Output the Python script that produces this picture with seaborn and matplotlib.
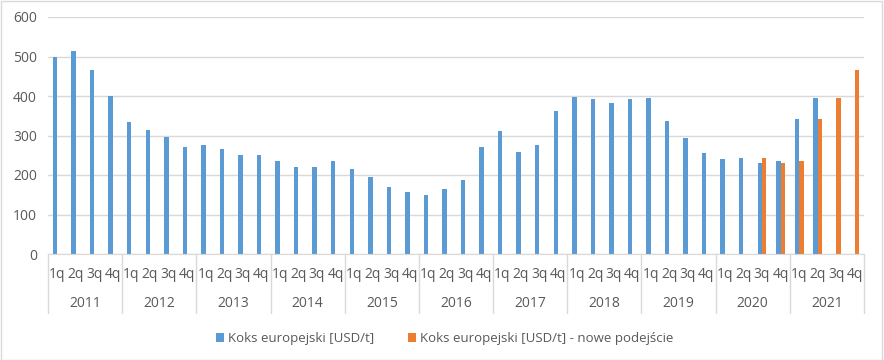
import numpy as np
import pandas as pd
import matplotlib
matplotlib.use("Agg")
import matplotlib.pyplot as plt
import matplotlib.transforms as mtransforms
from matplotlib.patches import Rectangle
import seaborn as sns

# data
years = [str(y) for y in range(2011, 2022)]
quarters = ["1q", "2q", "3q", "4q"]
koks = [500, 515, 465, 400,
        335, 315, 295, 272,
        275, 265, 250, 250,
        235, 220, 220, 235,
        215, 195, 170, 158,
        150, 165, 187, 272,
        312, 258, 275, 362,
        398, 392, 382, 392,
        395, 337, 294, 256,
        241, 243, 230, 235,
        342, 395, np.nan, np.nan]
koks_nowe = [np.nan] * 38 + [243, 230, 235, 342, 395, 466]
series_names = ["Koks europejski [USD/t]", "Koks europejski [USD/t] - nowe podejście"]
colors = ["#5B9BD5", "#ED7D31"]

keys = [f"{y}-{q}" for y in years for q in quarters]
df = pd.concat([
    pd.DataFrame({"okres": keys, "wartosc": koks, "seria": series_names[0]}),
    pd.DataFrame({"okres": keys, "wartosc": koks_nowe, "seria": series_names[1]}),
], ignore_index=True)

sns.set_style("white")
plt.rcParams["font.family"] = ["Open Sans", "DejaVu Sans"]
text_col = "#595959"
grid_col = "#D9D9D9"

fig = plt.figure(figsize=(8.84, 3.6), dpi=100)
ax = fig.add_axes([48 / 884, 1 - 254 / 360, (864 - 48) / 884, 237 / 360])

sns.barplot(data=df, x="okres", y="wartosc", hue="seria", order=keys,
            hue_order=series_names, palette=colors, width=0.48,
            saturation=1, ax=ax, errorbar=None, linewidth=0)

ax.set_ylim(0, 600)
ax.set_xlim(-0.5, len(keys) - 0.5)
ax.set_yticks(range(0, 601, 100))
ax.yaxis.grid(True, color=grid_col, linewidth=1)
ax.set_axisbelow(True)
for s in ["left", "right", "top"]:
    ax.spines[s].set_visible(False)
ax.spines["bottom"].set_color(grid_col)
ax.set_xlabel("")
ax.set_ylabel("")

ax.set_xticks(range(len(keys)))
ax.set_xticklabels([q for y in years for q in quarters])
ax.tick_params(axis="x", length=0, pad=9, labelsize=10, labelcolor=text_col)
ax.tick_params(axis="y", length=0, pad=8, labelsize=10, labelcolor=text_col)

# year row with separators
trans = mtransforms.blended_transform_factory(ax.transData, ax.transAxes)
for i in range(len(years) + 1):
    x = -0.5 + 4 * i
    ax.plot([x, x], [0, -0.249], transform=trans, color=grid_col,
            linewidth=1, clip_on=False)
for i, y in enumerate(years):
    ax.text(1.5 + 4 * i, -0.207, y, transform=trans, ha="center", va="center",
            fontsize=10, color=text_col)

ax.legend(loc="upper center", bbox_to_anchor=(0.486, -0.28), ncol=2, frameon=False,
          fontsize=9.5, labelcolor=text_col, handlelength=0.6, handleheight=0.6,
          handletextpad=0.3, columnspacing=2.6)

fig.patches.append(Rectangle((0.001, 0.001), 0.997, 0.997, transform=fig.transFigure,
                             fill=False, edgecolor=grid_col, linewidth=1))

fig.savefig("out.png", dpi=100)
